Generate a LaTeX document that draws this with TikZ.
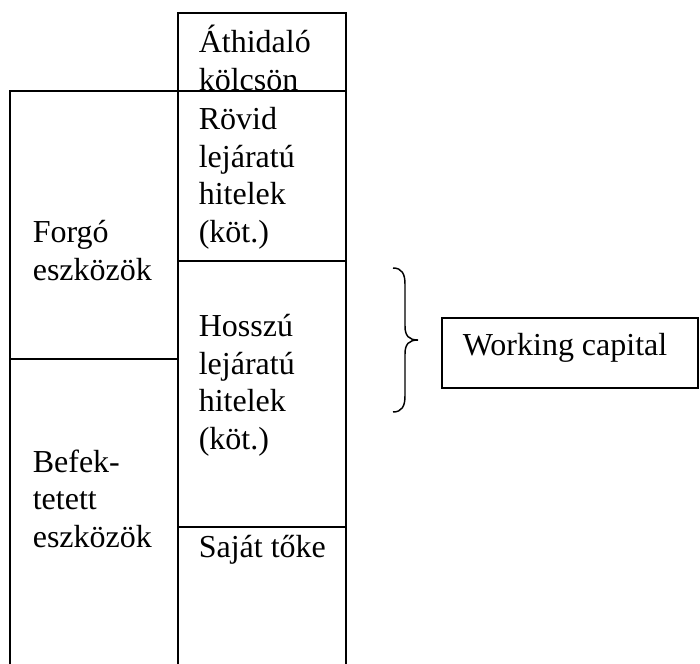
\documentclass[tikz,border=0pt]{standalone}
\usepackage{fontspec}
\setmainfont{Liberation Serif}
\begin{document}
\begin{tikzpicture}[x=0.75pt,y=-0.75pt,line width=1.2pt,
  % multi-line labels are placed by the baseline of their last line
  cell/.style={anchor=base west,inner sep=0pt,align=left,
    font=\fontsize{24}{28.1}\selectfont},
  wcbox/.style={draw,line width=1.2pt,minimum width=192pt,minimum height=52.5pt,inner sep=0pt}]
\useasboundingbox (0,0) rectangle (700,664);
% liabilities column
\draw (178,664) -- (178,13) -- (346,13) -- (346,664);
% assets column
\draw (10,664) -- (10,91) -- (346,91);
\draw (178,261) -- (346,261);
\draw (178,527) -- (346,527);
\draw (10,359) -- (178,359);
% labels
\node[cell] (athid) at (198,90) {Áthidaló\\kölcsön};
\node[cell] (rovid) at (198,242) {Rövid\\lejáratú\\hitelek\\(köt.)};
\node[cell] (hosszu) at (198,449) {Hosszú\\lejáratú\\hitelek\\(köt.)};
\node[cell] (sajat) at (198,557) {Saját tőke};
\node[cell] (forgo) at (32,280) {Forgó\\eszközök};
\node[cell] (befek) at (32,547) {Befek-\\tetett\\eszközök};
% brace and working capital box
\coordinate (bt) at (393,268);
\coordinate (bb) at (393,412);
\coordinate (tip) at (418,340);
\draw[line width=1.1pt] (bt) .. controls (402,268) and (405,274) .. (405,284)
  -- (405,326) .. controls (405,336) and (409,340) .. (tip)
  .. controls (409,340) and (405,344) .. (405,354)
  -- (405,396) .. controls (405,406) and (402,412) .. (bb);
\node[wcbox] (wc) at (570,353) {};
\node[cell] (wctext) at (462,355) {Working capital};
\end{tikzpicture}
\end{document}
